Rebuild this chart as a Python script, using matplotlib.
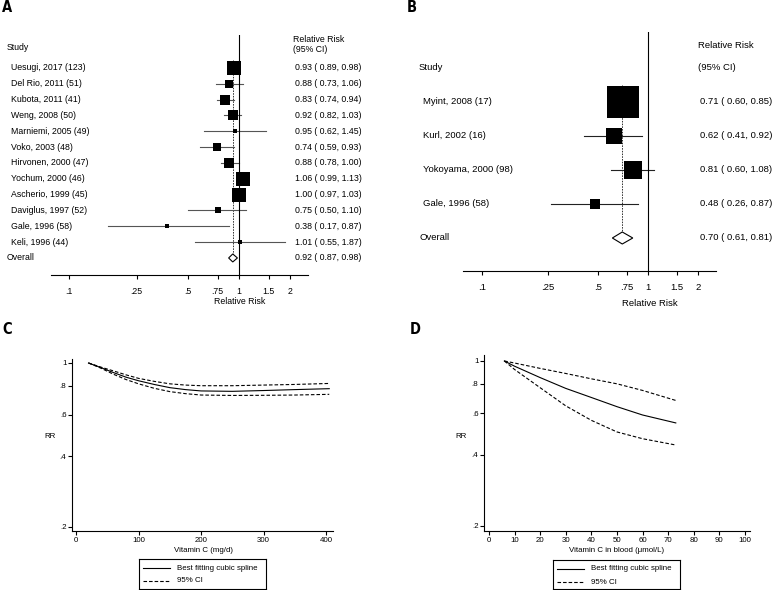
import matplotlib
matplotlib.use('Agg')
import matplotlib.pyplot as plt
from matplotlib import transforms
from matplotlib.patches import Polygon, Rectangle
from matplotlib.lines import Line2D
from matplotlib.ticker import NullLocator, FixedLocator, FixedFormatter

plt.rcParams['font.family'] = ['Liberation Sans', 'DejaVu Sans']

# ---------------- data ----------------
a_studies = ["Uesugi, 2017 (123)", "Del Rio, 2011 (51)", "Kubota, 2011 (41)", "Weng, 2008 (50)",
             "Marniemi, 2005 (49)", "Voko, 2003 (48)", "Hirvonen, 2000 (47)", "Yochum, 2000 (46)",
             "Ascherio, 1999 (45)", "Daviglus, 1997 (52)", "Gale, 1996 (58)", "Keli, 1996 (44)"]
a_rr = [0.93, 0.88, 0.83, 0.92, 0.95, 0.74, 0.88, 1.06, 1.00, 0.75, 0.38, 1.01]
a_lo = [0.89, 0.73, 0.74, 0.82, 0.62, 0.59, 0.78, 0.99, 0.97, 0.50, 0.17, 0.55]
a_hi = [0.98, 1.06, 0.94, 1.03, 1.45, 0.93, 1.00, 1.13, 1.03, 1.10, 0.87, 1.87]
a_weight = [15.0, 5.7, 10.7, 10.7, 1.8, 5.7, 10.7, 15.0, 19.9, 3.2, 0.8, 0.8]
a_overall = [0.92, 0.87, 0.98]

b_studies = ["Myint, 2008 (17)", "Kurl, 2002 (16)", "Yokoyama, 2000 (98)", "Gale, 1996 (58)"]
b_rr = [0.71, 0.62, 0.81, 0.48]
b_lo = [0.60, 0.41, 0.60, 0.26]
b_hi = [0.85, 0.92, 1.08, 0.87]
b_weight = [59.9, 13.2, 21.1, 5.8]
b_overall = [0.70, 0.61, 0.81]

forest_ticks = [0.1, 0.25, 0.5, 0.75, 1, 1.5, 2]
forest_ticklabels = ['.1', '.25', '.5', '.75', '1', '1.5', '2']

c_x = [20, 40, 60, 80, 100, 125, 150, 175, 200, 250, 300, 350, 405]
c_rr = [1.0, 0.955, 0.91, 0.87, 0.84, 0.81, 0.785, 0.77, 0.76, 0.757, 0.763, 0.77, 0.777]
c_hi = [1.0, 0.96, 0.925, 0.89, 0.86, 0.835, 0.815, 0.805, 0.80, 0.80, 0.805, 0.81, 0.818]
c_lo = [1.0, 0.95, 0.895, 0.85, 0.815, 0.78, 0.755, 0.74, 0.73, 0.727, 0.728, 0.73, 0.735]

d_x = [6, 10, 20, 30, 40, 50, 60, 73]
d_rr = [1.0, 0.95, 0.85, 0.765, 0.70, 0.64, 0.59, 0.546]
d_hi = [1.0, 0.98, 0.93, 0.885, 0.84, 0.80, 0.75, 0.68]
d_lo = [1.0, 0.92, 0.77, 0.645, 0.56, 0.50, 0.468, 0.44]

rr_ticks = [0.2, 0.4, 0.6, 0.8, 1]
rr_ticklabels = ['.2', '.4', '.6', '.8', '1']
c_xticks = [0, 100, 200, 300, 400]
d_xticks = [0, 10, 20, 30, 40, 50, 60, 70, 80, 90, 100]

# ---------------- figure ----------------
W, H = 775, 590
fig = plt.figure(figsize=(W / 100, H / 100), dpi=100)


def ax_px(left, top, right, bottom):
    return fig.add_axes([left / W, 1 - bottom / H, (right - left) / W, (bottom - top) / H])


def ftext(xpx, ypx, s, **kw):
    fig.text(xpx / W, 1 - ypx / H, s, **kw)


LW = 0.8


def forest(studies, rr, lo, hi, weight, overall, left, right, top, bottom, row0, step,
           xlo, xhi, x_study, x_ci, y_study_hdr, y_rr_hdr, y_ci_hdr, box_k, fs,
           ci_color, diamond_h, xlabel_x, xlabel_y, tick_pad):
    ax = ax_px(left, top, right, bottom)
    n = len(studies)
    ax.set_xscale('log')
    ax.set_xlim(xlo, xhi)
    ax.set_ylim((bottom - row0) / step, (top - row0) / step)
    for s in ['top', 'right', 'left']:
        ax.spines[s].set_visible(False)
    ax.spines['bottom'].set_linewidth(LW)
    ax.yaxis.set_visible(False)
    ax.xaxis.set_minor_locator(NullLocator())
    ax.xaxis.set_major_locator(FixedLocator(forest_ticks))
    ax.xaxis.set_major_formatter(FixedFormatter(forest_ticklabels))
    ax.tick_params(axis='x', direction='out', length=3, width=LW, labelsize=fs, pad=tick_pad)
    ax.patch.set_alpha(0)
    ax.axvline(1, color='black', lw=LW, zorder=3)
    ax.plot([overall[0], overall[0]], [-0.5, n], color='#333333', lw=0.7,
            linestyle=(0, (1.6, 1.2)), zorder=1)
    for i in range(n):
        ax.plot([lo[i], hi[i]], [i, i], color=ci_color, lw=LW, zorder=2)
        side = box_k * weight[i] ** 0.5
        ax.plot([rr[i]], [i], marker='s', color='black', markersize=side * 0.72,
                markeredgewidth=0, zorder=4)
    dh = diamond_h / step
    ax.add_patch(Polygon([[overall[1], n], [overall[0], n - dh], [overall[2], n],
                          [overall[0], n + dh]], closed=True, facecolor='white',
                         edgecolor='black', lw=LW, zorder=5))
    tr = transforms.blended_transform_factory(fig.transFigure, ax.transData)
    ax.text(x_study / W, (y_study_hdr - row0) / step, 'Study', transform=tr, ha='left',
            va='center', fontsize=fs)
    ax.text(x_ci / W, (y_rr_hdr - row0) / step, 'Relative Risk', transform=tr, ha='left',
            va='center', fontsize=fs)
    ax.text(x_ci / W, (y_ci_hdr - row0) / step, '(95% CI)', transform=tr, ha='left',
            va='center', fontsize=fs)
    for i in range(n):
        ax.text((x_study + 4) / W, i, studies[i], transform=tr, ha='left', va='center',
                fontsize=fs)
        ax.text((x_ci + 2) / W, i, f"{rr[i]:.2f} ( {lo[i]:.2f}, {hi[i]:.2f})", transform=tr,
                ha='left', va='center', fontsize=fs)
    ax.text(x_study / W, n, 'Overall', transform=tr, ha='left', va='center', fontsize=fs)
    ax.text((x_ci + 2) / W, n, f"{overall[0]:.2f} ( {overall[1]:.2f}, {overall[2]:.2f})",
            transform=tr, ha='left', va='center', fontsize=fs)
    ftext(xlabel_x, xlabel_y, 'Relative Risk', ha='center', va='center', fontsize=fs)
    return ax


# Panel A
forest(a_studies, a_rr, a_lo, a_hi, a_weight, a_overall,
       left=51, right=308, top=35, bottom=275, row0=68, step=15.83,
       xlo=0.0784, xhi=2.55, x_study=7, x_ci=293, y_study_hdr=48, y_rr_hdr=39, y_ci_hdr=49,
       box_k=3.36, fs=6.3, ci_color='#555555', diamond_h=4.0, xlabel_x=240, xlabel_y=302,
       tick_pad=5.5)

# Panel B
forest(b_studies, b_rr, b_lo, b_hi, b_weight, b_overall,
       left=463, right=716, top=32, bottom=271, row0=102, step=34.0,
       xlo=0.0768, xhi=2.57, x_study=419, x_ci=698, y_study_hdr=67, y_rr_hdr=46, y_ci_hdr=67,
       box_k=4.13, fs=6.8, ci_color='#222222', diamond_h=6.0, xlabel_x=650, xlabel_y=304,
       tick_pad=5.5)


def spline_panel(x, rr, lo, hi, left, top, right, bottom, xlim, ylim, xticks, xlabel,
                 xlabel_x, rr_x, leg_box):
    ax = ax_px(left, top, right, bottom)
    ax.set_yscale('log')
    ax.set_xlim(*xlim)
    ax.set_ylim(*ylim)
    for s in ['top', 'right']:
        ax.spines[s].set_visible(False)
    for s in ['left', 'bottom']:
        ax.spines[s].set_linewidth(LW)
    ax.yaxis.set_minor_locator(NullLocator())
    ax.yaxis.set_major_locator(FixedLocator(rr_ticks))
    ax.yaxis.set_major_formatter(FixedFormatter(rr_ticklabels))
    ax.set_xticks(xticks)
    ax.set_xticklabels([str(t) for t in xticks])
    ax.tick_params(axis='both', direction='out', length=3, width=LW, labelsize=5.7)
    ax.tick_params(axis='y', pad=1)
    ax.tick_params(axis='x', pad=1.5)
    ax.plot(x, rr, color='black', lw=LW)
    ax.plot(x, hi, color='black', lw=LW, dashes=(3.2, 1.8))
    ax.plot(x, lo, color='black', lw=LW, dashes=(3.2, 1.8))
    ftext(xlabel_x, 550, xlabel, ha='center', va='center', fontsize=5.7)
    ftext(rr_x, 437, 'RR', ha='center', va='center', fontsize=5.7)
    # legend box
    l, t, r, b = leg_box
    lax = ax_px(l, t, r, b)
    lax.set_xlim(0, r - l)
    lax.set_ylim(b - t, 0)
    lax.set_xticks([])
    lax.set_yticks([])
    for s in lax.spines.values():
        s.set_linewidth(LW)
    lax.plot([4, 31], [9, 9], color='black', lw=LW)
    lax.plot([4, 31], [22, 22], color='black', lw=LW, dashes=(3.2, 1.8))
    lax.text(38, 9, 'Best fitting cubic spline', ha='left', va='center', fontsize=5.7)
    lax.text(38, 22, '95% CI', ha='left', va='center', fontsize=5.7)
    return ax


spline_panel(c_x, c_rr, c_lo, c_hi, left=72, top=359, right=333, bottom=531,
             xlim=(-6.4, 411), ylim=(0.192, 1.04), xticks=c_xticks,
             xlabel='Vitamin C (mg/d)', xlabel_x=203, rr_x=50, leg_box=(139, 559, 266, 589))

spline_panel(d_x, d_rr, d_lo, d_hi, left=484, top=355, right=750, bottom=531,
             xlim=(-1.95, 102), ylim=(0.19, 1.06), xticks=d_xticks,
             xlabel='Vitamin C in blood (μmol/L)', xlabel_x=617, rr_x=461,
             leg_box=(553, 560, 680, 589))

# panel letters
for lab, x, y in [('A', 7, 8), ('B', 412, 8), ('C', 7.5, 330), ('D', 415, 330)]:
    ftext(x, y, lab, ha='center', va='center', fontsize=10.5, fontweight='bold',
          family='DejaVu Sans', stretch='condensed')

fig.savefig('out.png', dpi=100)
